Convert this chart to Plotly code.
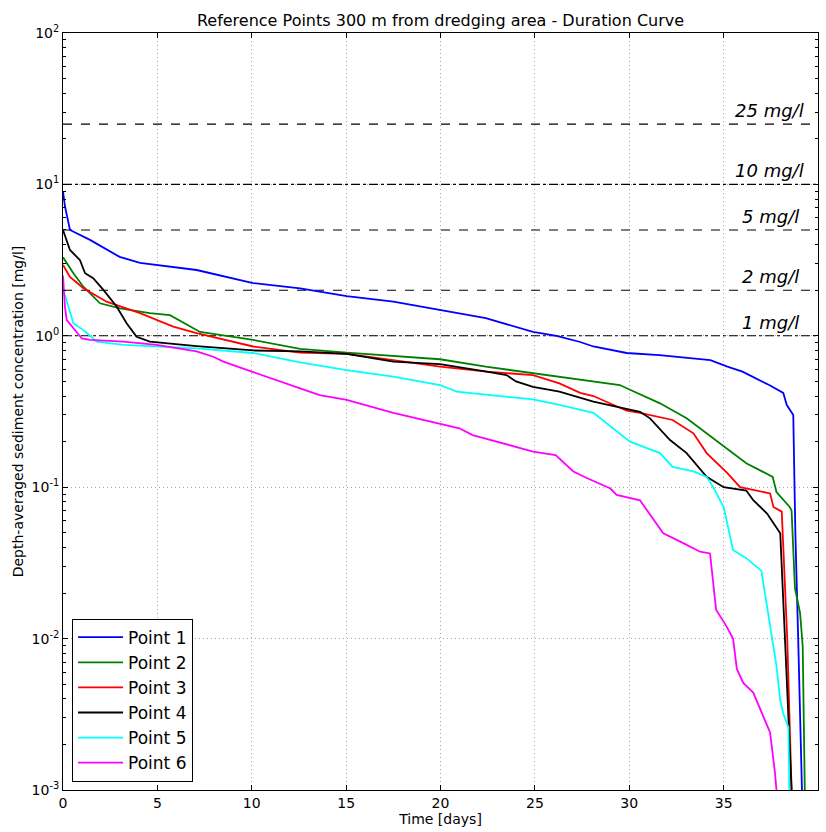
import numpy as np
import plotly.graph_objects as go

# ---- data (days, mg/l) ----
p1_x = [0, 0.1, 0.37, 1.43, 3.0, 4.08, 7.08, 10.07, 12.56, 15.03, 17.5, 19.97, 22.4, 24.9, 26.15, 27.4,
        28.1, 29.86, 31.6, 34.3, 35.2, 36.0, 36.9, 37.46, 38.16, 38.34, 38.69, 38.8, 38.95, 39.15]
p1_y = [9.0, 7.2, 5.0, 4.3, 3.32, 3.03, 2.72, 2.23, 2.06, 1.83, 1.68, 1.48, 1.31, 1.06, 1.0, 0.91,
        0.85, 0.77, 0.746, 0.69, 0.625, 0.58, 0.51, 0.47, 0.42, 0.35, 0.30, 0.05, 0.01, 0.001]

p2_x = [0, 0.55, 1.08, 1.96, 3.02, 4.6, 5.67, 7.26, 10.07, 12.56, 15.03, 19.97, 22.4, 24.9, 26.3, 27.4,
        29.5, 30.04, 31.63, 33.04, 34.8, 36.2, 37.6, 37.8, 38.5, 38.6, 38.78, 39.05, 39.19, 39.3]
p2_y = [3.3, 2.59, 2.11, 1.64, 1.52, 1.41, 1.37, 1.06, 0.94, 0.82, 0.774, 0.70, 0.625, 0.565, 0.537, 0.51,
        0.473, 0.44, 0.358, 0.285, 0.195, 0.144, 0.117, 0.093, 0.074, 0.07, 0.0215, 0.0148, 0.0089, 0.001]

p3_x = [0, 0.37, 1.08, 2.31, 4.08, 5.84, 7.08, 10.07, 12.56, 15.03, 17.5, 19.97, 22.45, 24.9, 26.3, 27.4,
        28.1, 29.86, 30.57, 32.3, 33.4, 34.1, 35.2, 35.87, 37.46, 37.64, 38.08, 38.37, 38.6]
p3_y = [2.94, 2.45, 2.06, 1.68, 1.41, 1.15, 1.04, 0.85, 0.774, 0.76, 0.69, 0.625, 0.58, 0.55, 0.485, 0.42,
        0.40, 0.32, 0.31, 0.278, 0.227, 0.168, 0.124, 0.10, 0.091, 0.074, 0.069, 0.01, 0.001]

p4_x = [0, 0.37, 0.9, 1.17, 1.6, 2.14, 2.84, 3.37, 3.9, 4.6, 7.08, 10.07, 12.56, 15.03, 17.5, 19.97, 22.45,
        23.5, 24.0, 24.9, 26.3, 28.1, 30.57, 31.1, 32.16, 33.04, 34.1, 35.0, 36.2, 36.57, 37.3, 38.0, 38.25, 38.6]
p4_y = [5.0, 3.69, 3.16, 2.59, 2.40, 2.01, 1.56, 1.21, 0.986, 0.914, 0.855, 0.80, 0.79, 0.76, 0.675, 0.65, 0.58,
        0.55, 0.50, 0.46, 0.428, 0.367, 0.315, 0.285, 0.205, 0.168, 0.117, 0.10, 0.095, 0.082, 0.067, 0.0496, 0.01, 0.001]

p5_x = [0, 0.1, 0.55, 1.08, 1.43, 1.78, 3.2, 7.08, 10.07, 12.56, 15.03, 17.5, 19.97, 20.86, 24.9, 26.3, 28.1,
        29.5, 30.04, 31.63, 32.3, 33.4, 34.1, 34.45, 35.0, 35.5, 36.2, 37.0, 37.4, 37.8, 38.0, 38.16, 38.43, 38.48]
p5_y = [1.95, 1.86, 1.21, 1.09, 1.0, 0.914, 0.87, 0.826, 0.77, 0.668, 0.594, 0.537, 0.473, 0.428, 0.38, 0.35, 0.31,
        0.227, 0.20, 0.168, 0.136, 0.127, 0.117, 0.10, 0.074, 0.0385, 0.034, 0.028, 0.014, 0.0066, 0.0039, 0.0032, 0.0026, 0.001]

p6_x = [0, 0.1, 0.2, 0.55, 1.0, 1.43, 3.2, 4.96, 6.2, 7.08, 7.96, 8.5, 10.0, 11.14, 11.85, 12.56, 13.6, 15.03,
        17.5, 19.97, 21.0, 21.7, 23.15, 24.9, 26.1, 27.04, 27.75, 29.0, 29.33, 30.57, 30.92, 31.8, 32.86, 33.75,
        34.28, 34.6, 35.16, 35.5, 35.7, 36.04, 36.57, 37.1, 37.46, 37.72, 37.8]
p6_y = [2.5, 1.56, 1.27, 1.12, 0.96, 0.94, 0.914, 0.87, 0.826, 0.79, 0.727, 0.675, 0.58, 0.516, 0.485, 0.45, 0.406, 0.377,
        0.31, 0.261, 0.245, 0.221, 0.198, 0.172, 0.163, 0.127, 0.115, 0.098, 0.089, 0.082, 0.071, 0.0496, 0.0427, 0.0375,
        0.0365, 0.0155, 0.012, 0.01, 0.0063, 0.0051, 0.0044, 0.0031, 0.0024, 0.0013, 0.001]

series_names = ["Point 1", "Point 2", "Point 3", "Point 4", "Point 5", "Point 6"]
series_colors = ["#0000ff", "#008000", "#ff0000", "#000000", "#00ffff", "#ff00ff"]

thresholds = [25, 10, 5, 2, 1]
threshold_labels = ["25 mg/l", "10 mg/l", "5 mg/l", "2 mg/l", "1 mg/l"]
threshold_dash = ["dash", "dashdot", "dash", "dash", "dashdot"]
threshold_label_x = [39.35, 39.35, 39.1, 39.1, 39.1]

x_ticks = [0, 5, 10, 15, 20, 25, 30, 35, 40]
y_ticks = [1e-3, 1e-2, 1e-1, 1e0, 1e1, 1e2]
y_tick_text = ["10<sup>-3</sup>", "10<sup>-2</sup>", "10<sup>-1</sup>", "10<sup>0</sup>", "10<sup>1</sup>", "10<sup>2</sup>"]
y_minor = [m * 10.0 ** e for e in range(-3, 2) for m in range(2, 10)]

xs = [p1_x, p2_x, p3_x, p4_x, p5_x, p6_x]
ys = [p1_y, p2_y, p3_y, p4_y, p5_y, p6_y]

fig = go.Figure()

for v, d in zip(thresholds, threshold_dash):
    fig.add_trace(go.Scatter(x=[0, 40], y=[v, v], mode="lines",
                             line=dict(color="black", width=1.1, dash=d),
                             showlegend=False, hoverinfo="skip"))

for x, y, n, c in zip(xs, ys, series_names, series_colors):
    fig.add_trace(go.Scatter(x=x, y=y, mode="lines", name=n,
                             line=dict(color=c, width=1.8)))

for v, t, lx in zip(thresholds, threshold_labels, threshold_label_x):
    fig.add_annotation(x=lx, y=np.log10(v), text="<i>" + t + "</i>", showarrow=False,
                       xanchor="right", yanchor="bottom", yshift=1,
                       font=dict(family="DejaVu Sans", size=18, color="black"))

axis_common = dict(showline=True, linecolor="black", linewidth=1, mirror="ticks",
                   ticks="inside", ticklen=5, tickcolor="black",
                   showgrid=True, gridcolor="#a8a8a8", griddash="1px,3px", gridwidth=1,
                   zeroline=False,
                   tickfont=dict(family="DejaVu Sans", size=14, color="black"))

fig.update_xaxes(range=[0, 40], tickmode="array", tickvals=x_ticks,
                 title=dict(text="Time [days]", font=dict(family="DejaVu Sans", size=14, color="black"), standoff=4),
                 **axis_common)
fig.update_yaxes(type="log", range=[-3, 2], tickmode="array", tickvals=y_ticks, ticktext=y_tick_text,
                 minor=dict(tickmode="array", tickvals=y_minor, ticks="inside", ticklen=3,
                            tickcolor="black", showgrid=False),
                 title=dict(text="Depth-averaged sediment concentration [mg/l]",
                            font=dict(family="DejaVu Sans", size=14, color="black"), standoff=4),
                 **axis_common)

fig.update_layout(
    width=826, height=832,
    margin=dict(l=63, r=8, t=33, b=42),
    paper_bgcolor="white", plot_bgcolor="white",
    font=dict(family="DejaVu Sans", color="black"),
    title=dict(text="Reference Points 300 m from dredging area - Duration Curve",
               x=0.5, xref="paper", xanchor="center", y=1 - 20 / 832, yanchor="middle",
               font=dict(family="DejaVu Sans", size=16, color="black")),
    legend=dict(x=0.012, y=0.011, xanchor="left", yanchor="bottom",
                bgcolor="white", bordercolor="black", borderwidth=1,
                font=dict(family="DejaVu Sans", size=17, color="black"),
                itemwidth=45, tracegroupgap=0),
    showlegend=True,
)

fig.write_html("out.html")
